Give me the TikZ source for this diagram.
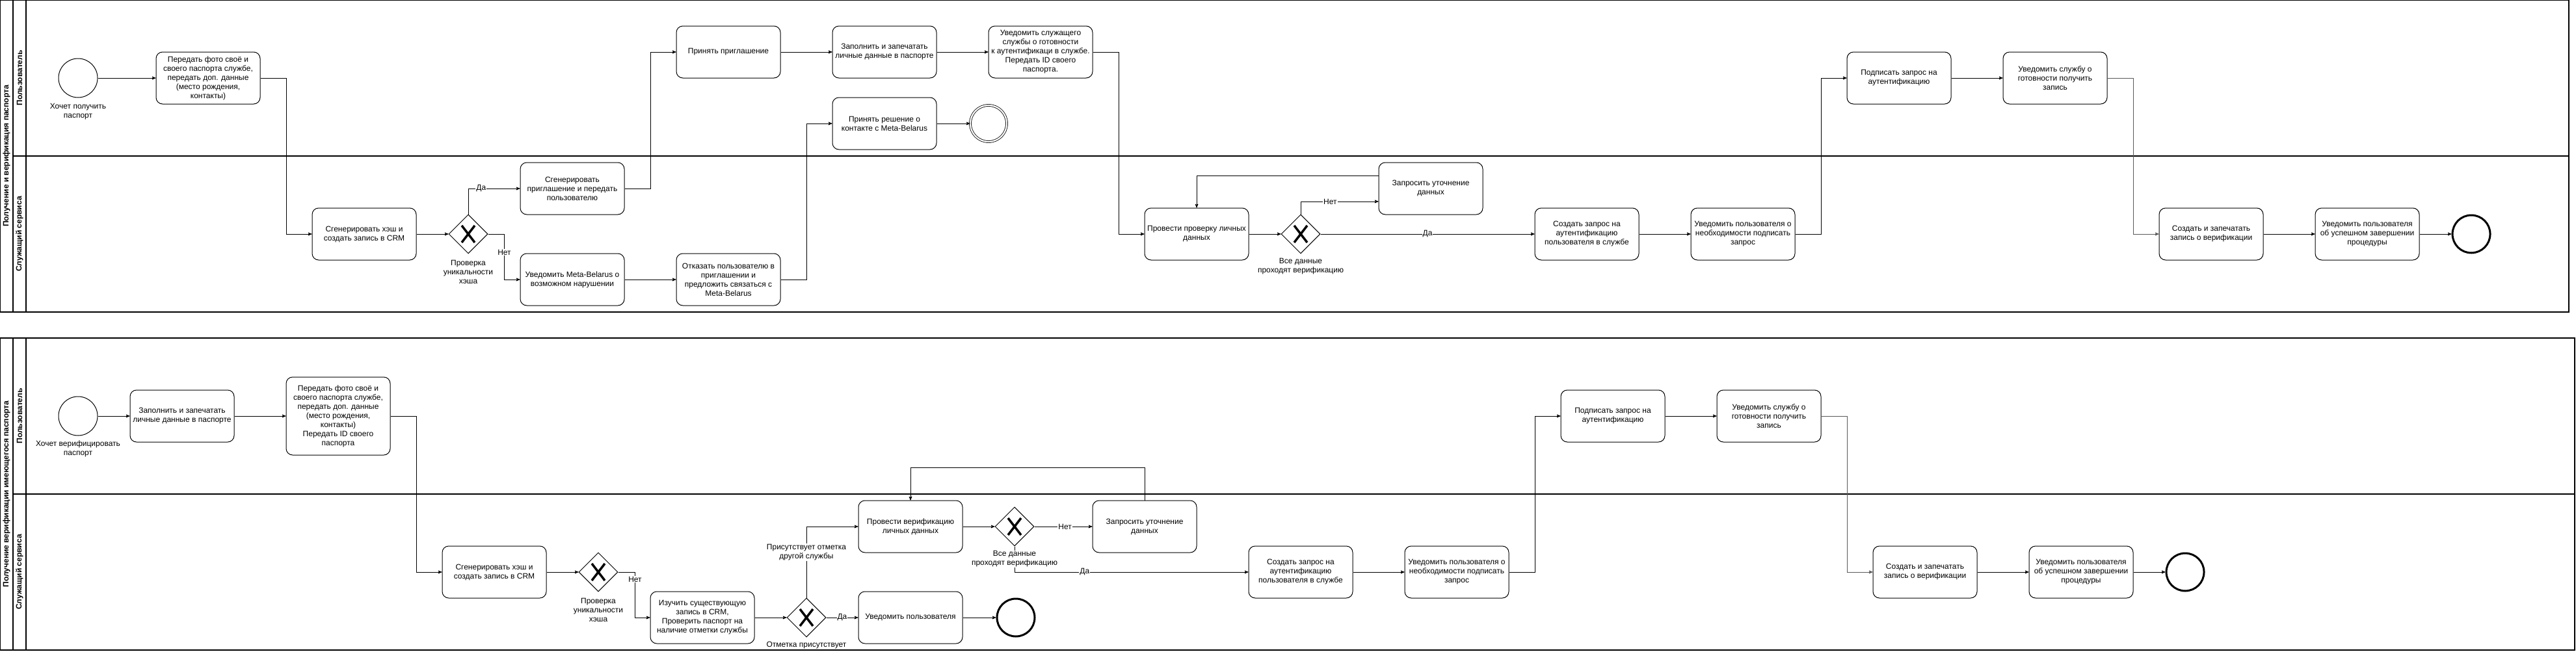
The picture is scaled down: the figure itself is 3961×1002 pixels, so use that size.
\documentclass[tikz,border=0pt]{standalone}
\usepackage{fontspec}
\setmainfont{Liberation Sans}
\usepackage{tikz}
\usetikzlibrary{arrows, shapes.geometric}

\begin{document}
\begin{tikzpicture}[x=1pt, y=-1pt,
	>=stealth',
	flow/.style={->, draw, line width=1pt},
	pool/.style={draw, line width=1.2pt},
	title/.style={rotate=90, font=\fontsize{12}{14}\selectfont\bfseries},
	task/.style={draw, line width=1pt, rounded corners=10pt, minimum width=160pt,
		minimum height=80pt, align=center, inner sep=1pt, fill=white,
		font=\fontsize{12}{14}\selectfont},
	gate/.style={diamond, draw, line width=1pt, minimum width=60pt, minimum height=60pt,
		inner sep=0pt, fill=white,
		path picture={
			\draw[line width=3.5pt] ([xshift=-10pt,yshift=-13pt]path picture bounding box.center)
				-- ([xshift=10pt,yshift=13pt]path picture bounding box.center);
			\draw[line width=3.5pt] ([xshift=-10pt,yshift=13pt]path picture bounding box.center)
				-- ([xshift=10pt,yshift=-13pt]path picture bounding box.center);}},
	startev/.style={circle, draw, line width=1pt, minimum size=60pt, inner sep=0pt, fill=white},
	midev/.style={circle, draw, line width=0.8pt, double, double distance=2.2pt, minimum size=56pt, inner sep=0pt, fill=white},
	endev/.style={circle, draw, line width=3pt, minimum size=58pt, inner sep=0pt, fill=white},
	txt/.style={align=center, fill=white, inner sep=1pt, font=\fontsize{12}{14}\selectfont},
	lbl/.style={fill=white, inner sep=1pt, font=\fontsize{12}{14}\selectfont}]
	\useasboundingbox (0,0) rectangle (3961,1002);

	% pools and lanes
	\draw[pool] (0,0) rectangle (3950,480);
	\draw[pool] (20,0) -- (20,480);
	\draw[pool] (40,0) -- (40,480);
	\draw[pool] (20,240) -- (3950,240);
	\draw[pool] (0,520) rectangle (3959,1000);
	\draw[pool] (20,520) -- (20,1000);
	\draw[pool] (40,520) -- (40,1000);
	\draw[pool] (20,760) -- (3959,760);
	\node at (10,240) (ttla) [title] {Получение и верификация паспорта};
	\node at (30,120) (usera) [title] {Пользователь};
	\node at (30,360) (clerka) [title] {Служащий сервиса};
	\node at (10,760) (ttlb) [title] {Получение верификации имеющегося паспорта};
	\node at (30,640) (userb) [title] {Пользователь};
	\node at (30,880) (clerkb) [title] {Служащий сервиса};

	% first pool
	\node at (120,120) (sa) [startev] {};
	\node at (120,172) (satxt) [txt] {Хочет получить\\паспорт};
	\node at (320,120) (senda) [task] {Передать фото своё и\\своего паспорта службе,\\передать доп. данные\\(место рождения,\\контакты)};
	\node at (560,360) (hasha) [task] {Сгенерировать хэш и\\создать запись в CRM};
	\node at (720,360) (ga) [gate] {};
	\node at (720,418) (gatxt) [txt] {Проверка\\уникальности\\хэша};
	\node at (880,290) (invite) [task] {Сгенерировать\\приглашение и передать\\пользователю};
	\node at (880,430) (warnmb) [task] {Уведомить Meta-Belarus о\\возможном нарушении};
	\node at (1120,80) (accept) [task] {Принять приглашение};
	\node at (1360,80) (filla) [task] {Заполнить и запечатать\\личные данные в паспорте};
	\node at (1600,80) (readya) [task] {Уведомить служащего\\службы о готовности\\к аутентификаци в службе.\\Передать ID своего\\паспорта.};
	\node at (1120,430) (refuse) [task] {Отказать пользователю в\\приглашении и\\предложить связаться с\\Meta-Belarus};
	\node at (1360,190) (decide) [task] {Принять решение о\\контакте с Meta-Belarus};
	\node at (1520,190) (ea) [midev] {};
	\node at (1840,360) (checka) [task] {Провести проверку личных\\данных};
	\node at (2000,360) (gb) [gate] {};
	\node at (2000,410) (gbtxt) [txt] {Все данные\\проходят верификацию};
	\node at (2200,290) (aska) [task] {Запросить уточнение\\данных};
	\node at (2440,360) (autha) [task] {Создать запрос на\\аутентификацию\\пользователя в службе};
	\node at (2680,360) (notea) [task] {Уведомить пользователя о\\необходимости подписать\\запрос};
	\node at (2920,120) (signa) [task] {Подписать запрос на\\аутентификацию};
	\node at (3160,120) (geta) [task] {Уведомить службу о\\готовности получить\\запись};
	\node at (3400,360) (recorda) [task] {Создать и запечатать\\запись о верификации};
	\node at (3640,360) (donea) [task] {Уведомить пользователя\\об успешном завершении\\процедуры};
	\node at (3800,360) (eb) [endev] {};

	\draw[flow] (sa) -- (senda);
	\draw[flow] (senda.east) -- ++(40,0) |- (hasha.west);
	\draw[flow] (hasha) -- (ga);
	\draw[flow] (ga.north) |- node[lbl, pos=0.625] {Да} (invite.west);
	\draw[flow] (ga.east) -- ++(25,0) |- node[lbl, pos=0.2] {Нет} (warnmb.west);
	\draw[flow] (invite.east) -- ++(40,0) |- (accept.west);
	\draw[flow] (accept) -- (filla);
	\draw[flow] (filla) -- (readya);
	\draw[flow] (readya.east) -- ++(40,0) |- (checka.west);
	\draw[flow] (warnmb) -- (refuse);
	\draw[flow] (refuse.east) -- ++(40,0) |- (decide.west);
	\draw[flow] (decide) -- (ea);
	\draw[flow] (checka) -- (gb);
	\draw[flow] (gb.north) |- node[lbl, pos=0.69] {Нет} ([yshift=-20pt]aska.west);
	\draw[flow] ([yshift=20pt]aska.west) -| (checka.north);
	\draw[flow] (gb) -- node[lbl, pos=0.5] {Да} (autha);
	\draw[flow] (autha) -- (notea);
	\draw[flow] (notea.east) -- ++(40,0) |- (signa.west);
	\draw[flow] (signa) -- (geta);
	\draw[flow, black!65] (geta.east) -- ++(40,0) |- (recorda.west);
	\draw[flow] (recorda) -- (donea);
	\draw[flow] (donea) -- (eb);

	% second pool
	\node at (120,640) (sb) [startev] {};
	\node at (120,690) (sbtxt) [txt] {Хочет верифицировать\\паспорт};
	\node at (280,640) (fillb) [task] {Заполнить и запечатать\\личные данные в паспорте};
	\node at (520,640) (sendb) [task, minimum height=120pt] {Передать фото своё и\\своего паспорта службе,\\передать доп. данные\\(место рождения,\\контакты)\\Передать ID своего\\паспорта};
	\node at (760,880) (hashb) [task] {Сгенерировать хэш и\\создать запись в CRM};
	\node at (920,880) (gc) [gate] {};
	\node at (920,938) (gctxt) [txt] {Проверка\\уникальности\\хэша};
	\node at (1080,950) (study) [task] {Изучить существующую\\запись в CRM,\\Проверить паспорт на\\наличие отметки службы};
	\node at (1240,950) (gd) [gate] {};
	\node at (1240,993) (gdtxt) [txt] {Отметка присутствует};
	\node at (1400,950) (noteu) [task] {Уведомить пользователя};
	\node at (1562,950) (ec) [endev] {};
	\node at (1400,810) (checkb) [task] {Провести верификацию\\личных данных};
	\node at (1560,810) (ge) [gate] {};
	\node at (1760,810) (askb) [task] {Запросить уточнение\\данных};
	\node at (2000,880) (authb) [task] {Создать запрос на\\аутентификацию\\пользователя в службе};
	\node at (2240,880) (noteb) [task] {Уведомить пользователя о\\необходимости подписать\\запрос};
	\node at (2480,640) (signb) [task] {Подписать запрос на\\аутентификацию};
	\node at (2720,640) (getb) [task] {Уведомить службу о\\готовности получить\\запись};
	\node at (2960,880) (recordb) [task] {Создать и запечатать\\запись о верификации};
	\node at (3200,880) (doneb) [task] {Уведомить пользователя\\об успешном завершении\\процедуры};
	\node at (3360,880) (ed) [endev] {};

	\draw[flow] (sb) -- (fillb);
	\draw[flow] (fillb) -- (sendb);
	\draw[flow] (sendb.east) -- ++(40,0) |- (hashb.west);
	\draw[flow] (hashb) -- (gc);
	\draw[flow] (gc.east) -- ++(26,0) |- node[lbl, pos=0.08] {Нет} (study.west);
	\draw[flow] (study) -- (gd);
	\draw[flow] (gd) -- node[lbl, pos=0.5] {Да} (noteu);
	\draw[flow] (noteu) -- (ec);
	\draw[flow] (gd.north) |- node[txt, pos=0.32] {Присутствует отметка\\другой службы} (checkb.west);
	\draw[flow] (checkb) -- (ge);
	\draw[flow] (ge) -- node[lbl, pos=0.53] {Нет} (askb);
	\draw[flow] (askb.north) -- ++(0,-50) -| (checkb.north);
	\draw[flow] (ge.south) |- node[lbl, pos=0.65] {Да} (authb.west);
	\node at (1560,860) (getxt) [txt] {Все данные\\проходят верификацию};
	\draw[flow] (authb) -- (noteb);
	\draw[flow] (noteb.east) -- ++(40,0) |- (signb.west);
	\draw[flow] (signb) -- (getb);
	\draw[flow, black!65] (getb.east) -- ++(40,0) |- (recordb.west);
	\draw[flow] (recordb) -- (doneb);
	\draw[flow] (doneb) -- (ed);
\end{tikzpicture}
\end{document}
